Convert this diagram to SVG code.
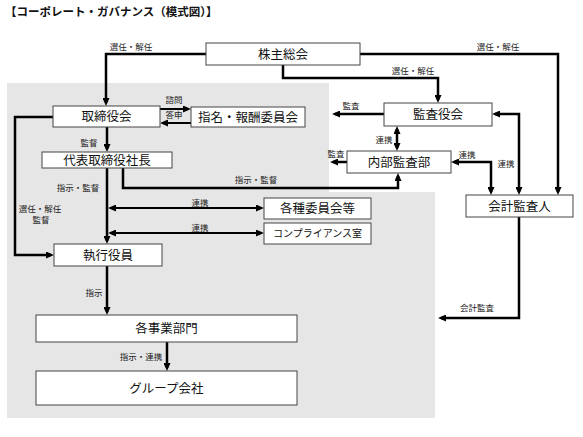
<svg xmlns="http://www.w3.org/2000/svg" width="583" height="437" viewBox="0 0 583 437">
<style>
.bg{fill:#e6e6e6}
.box{fill:#fff;stroke:#444;stroke-width:1}
.nt{font-family:"Noto Sans CJK JP","Noto Sans",sans-serif;font-size:12.5px;fill:#111;text-anchor:middle}
.sm{font-size:10px}
.lb{font-family:"Noto Sans CJK JP","Noto Sans",sans-serif;font-size:8.5px;fill:#222;text-anchor:middle}
.ttl{font-family:"Noto Sans CJK JP","Noto Sans",sans-serif;font-size:11.5px;font-weight:bold;fill:#111}
.ln{fill:none;stroke:#000;stroke-width:2.5}
.thin{stroke-width:2}
.a{marker-end:url(#ah)}
.d{marker-start:url(#ah);marker-end:url(#ah)}
</style>
<defs>
<marker id="ah" markerUnits="userSpaceOnUse" markerWidth="8" markerHeight="7" refX="5" refY="3.5" orient="auto-start-reverse">
<path d="M0,0 L8,3.5 L0,7 z" fill="#000"/>
</marker>
</defs>
<rect width="583" height="437" fill="#fff"/>
<polygon class="bg" points="7,83 329,83 329,192 435,192 435,418 7,418"/>
<text class="ttl" x="5" y="16">【コーポレート・ガバナンス（模式図）】</text>

<g id="connectors">
<path class="ln a" d="M206,54 H106 V103"/>
<path class="ln a" d="M283,65 V78 H438 V100"/>
<path class="ln a" d="M360,54 H558 V192"/>
<path class="ln a" d="M384,114 H335"/>
<path class="ln d" d="M397,129 V148"/>
<path class="ln a" d="M347,162 H333"/>
<path class="ln d" d="M454,162 H491 V192"/>
<path class="ln d" d="M495,114 H519 V192"/>
<path class="ln a" d="M107,127 V149"/>
<path class="ln a" d="M123,168 V188 H398 V176"/>
<path class="ln a" d="M107,168 V241"/>
<path class="ln thin d" d="M111,208 H261"/>
<path class="ln thin d" d="M111,233 H261"/>
<path class="ln a" d="M53,117 H15 V255 H51"/>
<path class="ln a" d="M107,266 V312"/>
<path class="ln a" d="M167,342 V368"/>
<path class="ln a" d="M519,217 V318 H441"/>
<path class="ln thin a" d="M160,109 H188"/>
<path class="ln thin a" d="M191,123 H163"/>
<text class="lb" x="131" y="49.5">選任・解任</text>
<text class="lb" x="413" y="73.5">選任・解任</text>
<text class="lb" x="498" y="49.5">選任・解任</text>
<text class="lb" x="174" y="103">諮問</text>
<text class="lb" x="174" y="118">答申</text>
<text class="lb" x="351" y="109">監査</text>
<text class="lb" x="384" y="143">連携</text>
<text class="lb" x="336" y="157">監査</text>
<text class="lb" x="467" y="158">連携</text>
<text class="lb" x="506" y="167">連携</text>
<text class="lb" x="89" y="146">監督</text>
<text class="lb" x="256" y="183">指示・監督</text>
<text class="lb" x="78" y="191">指示・監督</text>
<text class="lb" x="200" y="206">連携</text>
<text class="lb" x="200" y="231">連携</text>
<text class="lb" x="40" y="212">選任・解任</text>
<text class="lb" x="41" y="223">監督</text>
<text class="lb" x="94" y="296">指示</text>
<text class="lb" x="141" y="360">指示・連携</text>
<text class="lb" x="477" y="311">会計監査</text>
</g>

<g id="n-shareholders"><rect class="box" x="206" y="43" width="154" height="22"/><text class="nt" x="283" y="58.5">株主総会</text></g>
<g id="n-board"><rect class="box" x="53" y="106" width="107" height="21"/><text class="nt" x="106.5" y="121">取締役会</text></g>
<g id="n-nomination"><rect class="box" x="191" y="107" width="114" height="20"/><text class="nt" x="248" y="121.5">指名・報酬委員会</text></g>
<g id="n-auditboard"><rect class="box" x="384" y="103" width="108" height="23"/><text class="nt" x="438" y="119">監査役会</text></g>
<g id="n-internalaudit"><rect class="box" x="347" y="151" width="104" height="22"/><text class="nt" x="399" y="166.5">内部監査部</text></g>
<g id="n-president"><rect class="box" x="42" y="152" width="130" height="16"/><text class="nt" x="107" y="164.5">代表取締役社長</text></g>
<g id="n-accountant"><rect class="box" x="466" y="195" width="107" height="22"/><text class="nt" x="519.5" y="210.5">会計監査人</text></g>
<g id="n-committees"><rect class="box" x="264" y="198" width="107" height="21"/><text class="nt" x="317.5" y="213">各種委員会等</text></g>
<g id="n-compliance"><rect class="box" x="264" y="223" width="107" height="21"/><text class="nt sm" x="317.5" y="237">コンプライアンス室</text></g>
<g id="n-officers"><rect class="box" x="54" y="244" width="108" height="22"/><text class="nt" x="108" y="259.5">執行役員</text></g>
<g id="n-divisions"><rect class="box" x="36" y="315" width="261" height="27"/><text class="nt" x="166.5" y="333">各事業部門</text></g>
<g id="n-group"><rect class="box" x="36" y="371" width="261" height="34"/><text class="nt" x="166.5" y="392.5">グループ会社</text></g>
</svg>
